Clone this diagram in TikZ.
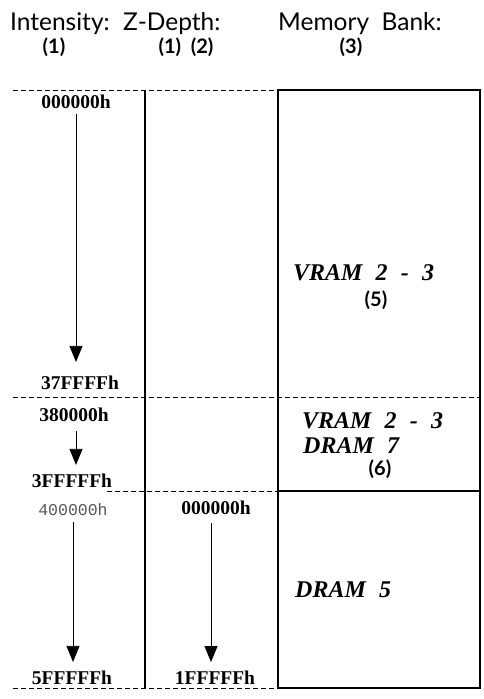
\documentclass[tikz,border=0pt]{standalone}
\usepackage{fontspec}
\usetikzlibrary{arrows.meta}
\setmainfont{Liberation Serif}
\newfontfamily\headfont{Lato}
\newfontfamily\hexfont{Liberation Serif}
\newfontfamily\typefont{Liberation Mono}
\newfontfamily\bankfont[WordSpace=2.2]{Liberation Serif}
\definecolor{mmgray}{HTML}{555555}

\begin{document}
\begin{tikzpicture}[x=1pt, y=-1pt,
  head/.style={font=\headfont\fontsize{24.5}{24.5}\selectfont, anchor=base west, inner sep=0pt},
  num/.style={font=\headfont\bfseries\fontsize{20}{20}\selectfont, inner sep=0pt},
  hex/.style={font=\hexfont\bfseries\fontsize{19.5}{19.5}\selectfont, inner sep=0pt},
  mono/.style={font=\typefont\fontsize{16.5}{16.5}\selectfont, text=mmgray, inner sep=0pt},
  bank/.style={font=\bankfont\bfseries\itshape\fontsize{24}{24}\selectfont, anchor=base west, inner sep=0pt},
  grid/.style={line width=0.9pt, dash pattern=on 5pt off 3pt},
  wall/.style={line width=1.3pt},
  arr/.style={-{Triangle[length=16pt,width=13pt]}, line width=0.8pt},
]
\useasboundingbox (0,0) rectangle (484,699);

% Column headings
\node[head] (hint) at (10,30)  {Intensity:};
\node[head] (hdep) at (123,30) {Z-Depth:};
\node[head] (hmem) at (278,30) {Memory\ \ Bank:};
\node[num] (nint) at (54,47)  {(1)};
\node[num] (ndep) at (186,47) {(1)\ \ (2)};
\node[num] (nmem) at (351,47) {(3)};

% Ruling: dashed address boundaries, solid bank box
\draw[grid] (13,90) -- (278,90);
\draw[grid] (13,397) -- (480,397);
\draw[grid] (107,491) -- (278,491);
\draw[grid] (13,688) -- (278,688);
\draw[wall] (145,90) -- (145,688);
\draw[wall] (278,90) rectangle (480,688);
\draw[line width=2pt] (278,491) -- (480,491);

% Intensity addresses
\node[hex]  (ia) at (76,102) {000000h};
\node[hex]  (ib) at (80,383) {37FFFFh};
\node[hex]  (ic) at (74,415) {380000h};
\node[hex]  (id) at (72,481) {3FFFFFh};
\node[mono] (ie) at (73,510) {400000h};
\node[hex]  (if) at (72,678) {5FFFFFh};
\draw[arr, shorten <=5pt, shorten >=14pt] (ia.south) -- (ia.south |- ib.north);
\draw[arr, shorten <=9pt, shorten >=9pt] ([xshift=2pt]ic.south) -- ([xshift=2pt]ic.south |- id.north);
\draw[arr, shorten <=6pt, shorten >=9pt] (ie.south) -- (ie.south |- if.north);

% Z-depth addresses
\node[hex] (za) at (216,508) {000000h};
\node[hex] (zb) at (215,678) {1FFFFFh};
\draw[arr, shorten <=8pt, shorten >=9pt] ([xshift=-5pt]za.south) -- ([xshift=-5pt]za.south |- zb.north);

% Memory banks
\node[bank] (ba) at (293,280) {VRAM 2 - 3};
\node[num]  (bn) at (376,300) {(5)};
\node[bank] (bb) at (302,428) {VRAM 2 - 3};
\node[bank] (bc) at (303,453) {DRAM 7};
\node[num]  (bo) at (380,469) {(6)};
\node[bank] (bd) at (295,597) {DRAM 5};

\end{tikzpicture}
\end{document}
